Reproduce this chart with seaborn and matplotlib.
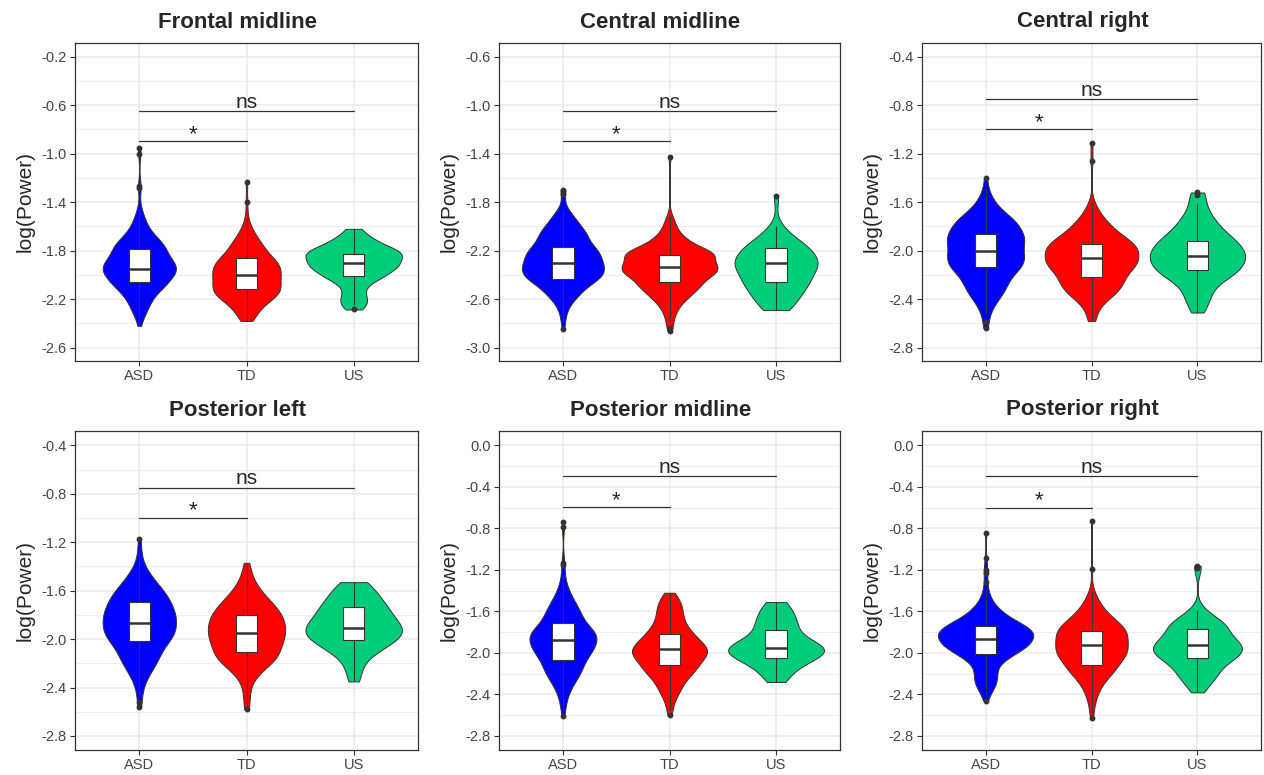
import numpy as np
import pandas as pd
import matplotlib
matplotlib.use("Agg")
import matplotlib.pyplot as plt
from matplotlib.ticker import FixedLocator
import seaborn as sns

# ---------------- data (with frequency counts) ----------------
groups = ["ASD", "TD", "US"]
regions = ["Frontal midline", "Central midline", "Central right",
           "Posterior left", "Posterior midline", "Posterior right"]

# Frontal midline
fm_asd_values = [-2.42, -2.35, -2.30, -2.25, -2.20, -2.15, -2.10, -2.06, -2.00, -1.95, -1.90, -1.85,
                 -1.79, -1.75, -1.70, -1.65, -1.60, -1.55, -1.50, -1.45, -1.28, -1.27, -1.00, -0.95]
fm_asd_counts = [1, 2, 4, 5, 6, 8, 11, 15, 19, 21, 18, 15, 14, 12, 9, 6, 4, 3, 2, 1, 1, 1, 1, 1]
fm_td_values = [-2.38, -2.35, -2.30, -2.25, -2.20, -2.16, -2.12, -2.06, -2.00, -1.95, -1.90, -1.86,
                -1.80, -1.75, -1.70, -1.65, -1.60, -1.53, -1.40, -1.23]
fm_td_counts = [2, 3, 5, 7, 9, 12, 16, 17, 16, 15, 13, 11, 9, 7, 5, 3, 2, 1, 1, 1]
fm_us_values = [-2.285, -2.25, -2.20, -2.15, -2.10, -2.05, -2.01, -1.95, -1.90, -1.83, -1.78,
                -1.73, -1.68, -1.62]
fm_us_counts = [1, 3, 3, 2, 2, 3, 7, 9, 11, 14, 7, 5, 3, 2]

# Central midline
cm_asd_values = [-2.85, -2.78, -2.72, -2.65, -2.60, -2.55, -2.50, -2.43, -2.40, -2.35, -2.305, -2.25,
                 -2.20, -2.167, -2.10, -2.05, -2.00, -1.95, -1.90, -1.87, -1.73, -1.71, -1.70]
cm_asd_counts = [1, 1, 2, 3, 5, 8, 12, 20, 12, 19, 18, 18, 15, 12, 14, 11, 8, 6, 4, 2, 1, 1, 1]
cm_td_values = [-2.86, -2.84, -2.78, -2.72, -2.66, -2.60, -2.55, -2.50, -2.456, -2.40, -2.36, -2.332,
                -2.30, -2.236, -2.20, -2.15, -2.10, -2.05, -2.00, -1.95, -1.91, -1.43]
cm_td_counts = [1, 1, 2, 3, 5, 8, 10, 13, 14, 19, 16, 12, 17, 26, 13, 11, 7, 4, 3, 2, 1, 1]
cm_us_values = [-2.69, -2.65, -2.60, -2.55, -2.50, -2.46, -2.40, -2.35, -2.305, -2.25, -2.18,
                -2.12, -2.06, -2.00, -1.75]
cm_us_counts = [2, 2, 3, 3, 3, 5, 5, 3, 8, 5, 7, 3, 2, 1, 1]

# Central right
cr_asd_values = [-2.64, -2.59, -2.52, -2.45, -2.40, -2.35, -2.30, -2.25, -2.20, -2.137, -2.08, -2.04,
                 -2.00, -1.95, -1.90, -1.863, -1.80, -1.75, -1.70, -1.65, -1.60, -1.55, -1.48, -1.40]
cr_asd_counts = [1, 1, 2, 3, 4, 6, 7, 7, 9, 16, 12, 10, 10, 12, 12, 12, 13, 10, 7, 4, 3, 2, 1, 1]
cr_td_values = [-2.58, -2.52, -2.46, -2.40, -2.35, -2.30, -2.25, -2.214, -2.15, -2.10, -2.058, -2.00,
                -1.945, -1.90, -1.85, -1.80, -1.75, -1.70, -1.65, -1.60, -1.26, -1.11]
cr_td_counts = [2, 2, 3, 6, 9, 11, 9, 11, 17, 15, 15, 20, 16, 11, 9, 7, 5, 3, 2, 1, 1, 1]
cr_us_values = [-2.51, -2.45, -2.40, -2.33, -2.26, -2.20, -2.159, -2.10, -2.041, -1.98, -1.917,
                -1.85, -1.78, -1.72, -1.66, -1.615, -1.54, -1.52]
cr_us_counts = [1, 1, 2, 2, 3, 4, 5, 6, 7, 6, 6, 4, 3, 2, 1, 1, 1, 1]

# Posterior left
pl_asd_values = [-2.56, -2.52, -2.45, -2.38, -2.32, -2.26, -2.20, -2.15, -2.10, -2.05, -2.013, -1.96,
                 -1.92, -1.87, -1.82, -1.78, -1.74, -1.691, -1.64, -1.60, -1.55, -1.50, -1.45,
                 -1.40, -1.33, -1.25, -1.17]
pl_asd_counts = [1, 1, 1, 2, 3, 5, 7, 7, 7, 7, 10, 12, 12, 12, 12, 10, 10, 11, 9, 8, 6, 5, 3, 2, 1, 1, 1]
pl_td_values = [-2.58, -2.54, -2.49, -2.43, -2.37, -2.30, -2.25, -2.20, -2.15, -2.109, -2.05, -2.00,
                -1.952, -1.90, -1.85, -1.801, -1.75, -1.70, -1.65, -1.60, -1.55, -1.50, -1.45,
                -1.40, -1.37]
pl_td_counts = [1, 1, 1, 1, 2, 3, 5, 8, 10, 10, 11, 12, 12, 12, 12, 11, 10, 8, 6, 4, 3, 2, 1, 1, 1]
pl_us_values = [-2.35, -2.30, -2.24, -2.17, -2.10, -2.05, -2.007, -1.95, -1.906, -1.85, -1.80,
                -1.738, -1.68, -1.62, -1.57, -1.53]
pl_us_counts = [1, 1, 1, 2, 3, 4, 5, 7, 6, 5, 5, 5, 4, 3, 2, 2]

# Posterior midline
pm_asd_values = [-2.61, -2.55, -2.48, -2.40, -2.33, -2.26, -2.20, -2.14, -2.066, -2.00, -1.95, -1.874,
                 -1.82, -1.77, -1.713, -1.65, -1.60, -1.55, -1.50, -1.45, -1.40, -1.33, -1.25,
                 -1.15, -1.13, -0.79, -0.74]
pm_asd_counts = [1, 1, 2, 3, 5, 7, 9, 12, 12, 14, 17, 20, 17, 13, 10, 9, 8, 6, 5, 3, 3, 2, 1, 1, 1, 1, 1]
pm_td_values = [-2.60, -2.55, -2.48, -2.42, -2.36, -2.30, -2.23, -2.17, -2.114, -2.05, -2.00, -1.96,
                -1.92, -1.87, -1.816, -1.76, -1.70, -1.65, -1.60, -1.55, -1.50, -1.46, -1.42]
pm_td_counts = [1, 2, 2, 4, 6, 8, 11, 14, 16, 18, 17, 15, 14, 14, 12, 10, 7, 6, 6, 6, 5, 3, 2]
pm_us_values = [-2.28, -2.22, -2.16, -2.10, -2.053, -2.00, -1.954, -1.90, -1.85, -1.80, -1.768,
                -1.70, -1.64, -1.57, -1.51]
pm_us_counts = [2, 2, 3, 4, 5, 8, 8, 6, 3, 2, 3, 4, 3, 3, 2]

# Posterior right
pr_asd_values = [-2.46, -2.40, -2.35, -2.30, -2.25, -2.20, -2.15, -2.10, -2.05, -2.008, -1.96, -1.92,
                 -1.867, -1.82, -1.78, -1.739, -1.70, -1.65, -1.60, -1.55, -1.50, -1.44, -1.38,
                 -1.32, -1.23, -1.20, -1.09, -0.84]
pr_asd_counts = [1, 2, 3, 5, 5, 5, 4, 6, 8, 11, 14, 18, 20, 19, 16, 14, 12, 9, 7, 4, 3, 2, 1, 1, 1, 1, 1, 1]
pr_td_values = [-2.63, -2.58, -2.52, -2.46, -2.40, -2.34, -2.28, -2.22, -2.16, -2.114, -2.05, -2.00,
                -1.96, -1.922, -1.87, -1.82, -1.784, -1.74, -1.70, -1.65, -1.60, -1.55, -1.50,
                -1.45, -1.40, -1.19, -0.73]
pr_td_counts = [1, 1, 1, 2, 3, 4, 6, 9, 12, 11, 16, 14, 13, 12, 15, 15, 11, 12, 10, 8, 6, 4, 3, 2, 1, 1, 1]
pr_us_values = [-2.38, -2.32, -2.26, -2.20, -2.14, -2.05, -2.00, -1.922, -1.86, -1.80, -1.755,
                -1.70, -1.64, -1.585, -1.18, -1.16]
pr_us_counts = [1, 2, 3, 4, 5, 8, 9, 12, 6, 2, 8, 4, 3, 1, 1, 1]

region_values = [
    [(fm_asd_values, fm_asd_counts), (fm_td_values, fm_td_counts), (fm_us_values, fm_us_counts)],
    [(cm_asd_values, cm_asd_counts), (cm_td_values, cm_td_counts), (cm_us_values, cm_us_counts)],
    [(cr_asd_values, cr_asd_counts), (cr_td_values, cr_td_counts), (cr_us_values, cr_us_counts)],
    [(pl_asd_values, pl_asd_counts), (pl_td_values, pl_td_counts), (pl_us_values, pl_us_counts)],
    [(pm_asd_values, pm_asd_counts), (pm_td_values, pm_td_counts), (pm_us_values, pm_us_counts)],
    [(pr_asd_values, pr_asd_counts), (pr_td_values, pr_td_counts), (pr_us_values, pr_us_counts)],
]

# y-axis tick values per panel
ticks_frontal_midline = [-0.2, -0.6, -1.0, -1.4, -1.8, -2.2, -2.6]
ticks_central_midline = [-0.6, -1.0, -1.4, -1.8, -2.2, -2.6, -3.0]
ticks_central_right = [-0.4, -0.8, -1.2, -1.6, -2.0, -2.4, -2.8]
ticks_posterior_left = [-0.4, -0.8, -1.2, -1.6, -2.0, -2.4, -2.8]
ticks_posterior_midline = [0.0, -0.4, -0.8, -1.2, -1.6, -2.0, -2.4, -2.8]
ticks_posterior_right = [0.0, -0.4, -0.8, -1.2, -1.6, -2.0, -2.4, -2.8]
region_ticks = [ticks_frontal_midline, ticks_central_midline, ticks_central_right,
                ticks_posterior_left, ticks_posterior_midline, ticks_posterior_right]

# significance labels: ASD vs TD, ASD vs US
sig_asd_td = ["*", "*", "*", "*", "*", "*"]
sig_asd_us = ["ns", "ns", "ns", "ns", "ns", "ns"]

# ---------------- layout / style ----------------
ylims = [(-2.71, -0.087), (-3.11, -0.487), (-2.91, -0.287),
         (-2.916, -0.282), (-2.935, 0.138), (-2.935, 0.138)]
bracket_star_y = [-0.895, -1.295, -0.996, -0.998, -0.597, -0.600]
bracket_ns_y = [-0.648, -1.048, -0.749, -0.750, -0.299, -0.300]

W, H = 1264, 775
col_px = [(75, 418), (499, 840), (922, 1261)]
row_px = [(43, 361), (431, 750)]
title_y_px = [22, 410]

fill_colors = ["#0000FF", "#FF0000", "#00CC7A"]
dark = "#333333"
grid_col = "#EBEBEB"


def nrd0_factor(kde):
    """Silverman's rule of thumb (R's bw.nrd0), expressed as a scipy factor."""
    x = np.asarray(kde.dataset).ravel()
    sd = x.std(ddof=1)
    q75, q25 = np.percentile(x, [75, 25])
    bw = 0.9 * min(sd, (q75 - q25) / 1.34) * x.size ** -0.2
    return bw / sd


sns.set_style("white")
plt.rcParams["font.family"] = ["Liberation Sans", "DejaVu Sans"]

fig = plt.figure(figsize=(W / 100, H / 100), dpi=100)

for i, region in enumerate(regions):
    r, c = divmod(i, 3)
    (x0, x1), (y0, y1) = col_px[c], row_px[r]
    ax = fig.add_axes([x0 / W, 1 - y1 / H, (x1 - x0) / W, (y1 - y0) / H])

    parts = []
    for g, (vals, cnts) in zip(groups, region_values[i]):
        parts.append(pd.DataFrame({"group": g, "value": np.repeat(vals, cnts)}))
    df = pd.concat(parts, ignore_index=True)

    sns.violinplot(data=df, x="group", y="value", hue="group", order=groups,
                   hue_order=groups, palette=fill_colors, legend=False,
                   cut=0, inner=None, density_norm="area", common_norm=True, width=0.9,
                   bw_method=nrd0_factor, bw_adjust=1.0, gridsize=200,
                   saturation=1, linewidth=0.7, linecolor=dark, ax=ax)
    sns.boxplot(data=df, x="group", y="value", order=groups, color="white",
                saturation=1, width=0.2, linewidth=0.8, linecolor=dark,
                showcaps=False, fliersize=3.2,
                flierprops=dict(marker="o", markerfacecolor=dark, markeredgecolor=dark),
                medianprops=dict(linewidth=1.8, color=dark), ax=ax)

    ticks = region_ticks[i]
    ax.set_xlim(-0.6, 2.6)
    ax.set_ylim(*ylims[i])
    ax.yaxis.set_major_locator(FixedLocator(ticks))
    ax.set_yticklabels([f"{t:.1f}".replace("-0.0", "0.0") for t in ticks])
    minors = [t - 0.2 for t in ticks] + [ticks[0] + 0.2]
    ax.yaxis.set_minor_locator(FixedLocator(minors))
    ax.set_xticks(range(3))
    ax.set_xticklabels(groups)

    ax.set_axisbelow(True)
    ax.grid(True, which="major", color=grid_col, linewidth=1.1)
    ax.grid(True, which="minor", axis="y", color=grid_col, linewidth=0.6)
    for s in ax.spines.values():
        s.set_visible(True)
        s.set_color(dark)
        s.set_linewidth(0.9)
    ax.tick_params(which="major", length=3.5, width=0.8, color=dark, bottom=True, left=True,
                   labelsize=10.5, labelcolor="#444444", pad=2.5)
    ax.tick_params(which="minor", length=0)
    ax.set_xlabel("")
    ax.set_ylabel("log(Power)", fontsize=15, labelpad=5)

    # significance brackets
    ax.plot([0, 1], [bracket_star_y[i]] * 2, color=dark, lw=0.9)
    ax.plot([0, 2], [bracket_ns_y[i]] * 2, color=dark, lw=0.9)
    ax.annotate(sig_asd_td[i], (0.5, bracket_star_y[i]), xytext=(0, 0.8),
                textcoords="offset points", ha="center", va="baseline", fontsize=16)
    ax.annotate(sig_asd_us[i], (1.0, bracket_ns_y[i]), xytext=(0, 2.5),
                textcoords="offset points", ha="center", va="baseline", fontsize=15)

    fig.text(((x0 + x1) / 2 - 9) / W, 1 - title_y_px[r] / H, region,
             ha="center", va="center", fontsize=16, fontweight="bold")

fig.savefig("out.png", dpi=100, facecolor="white")
